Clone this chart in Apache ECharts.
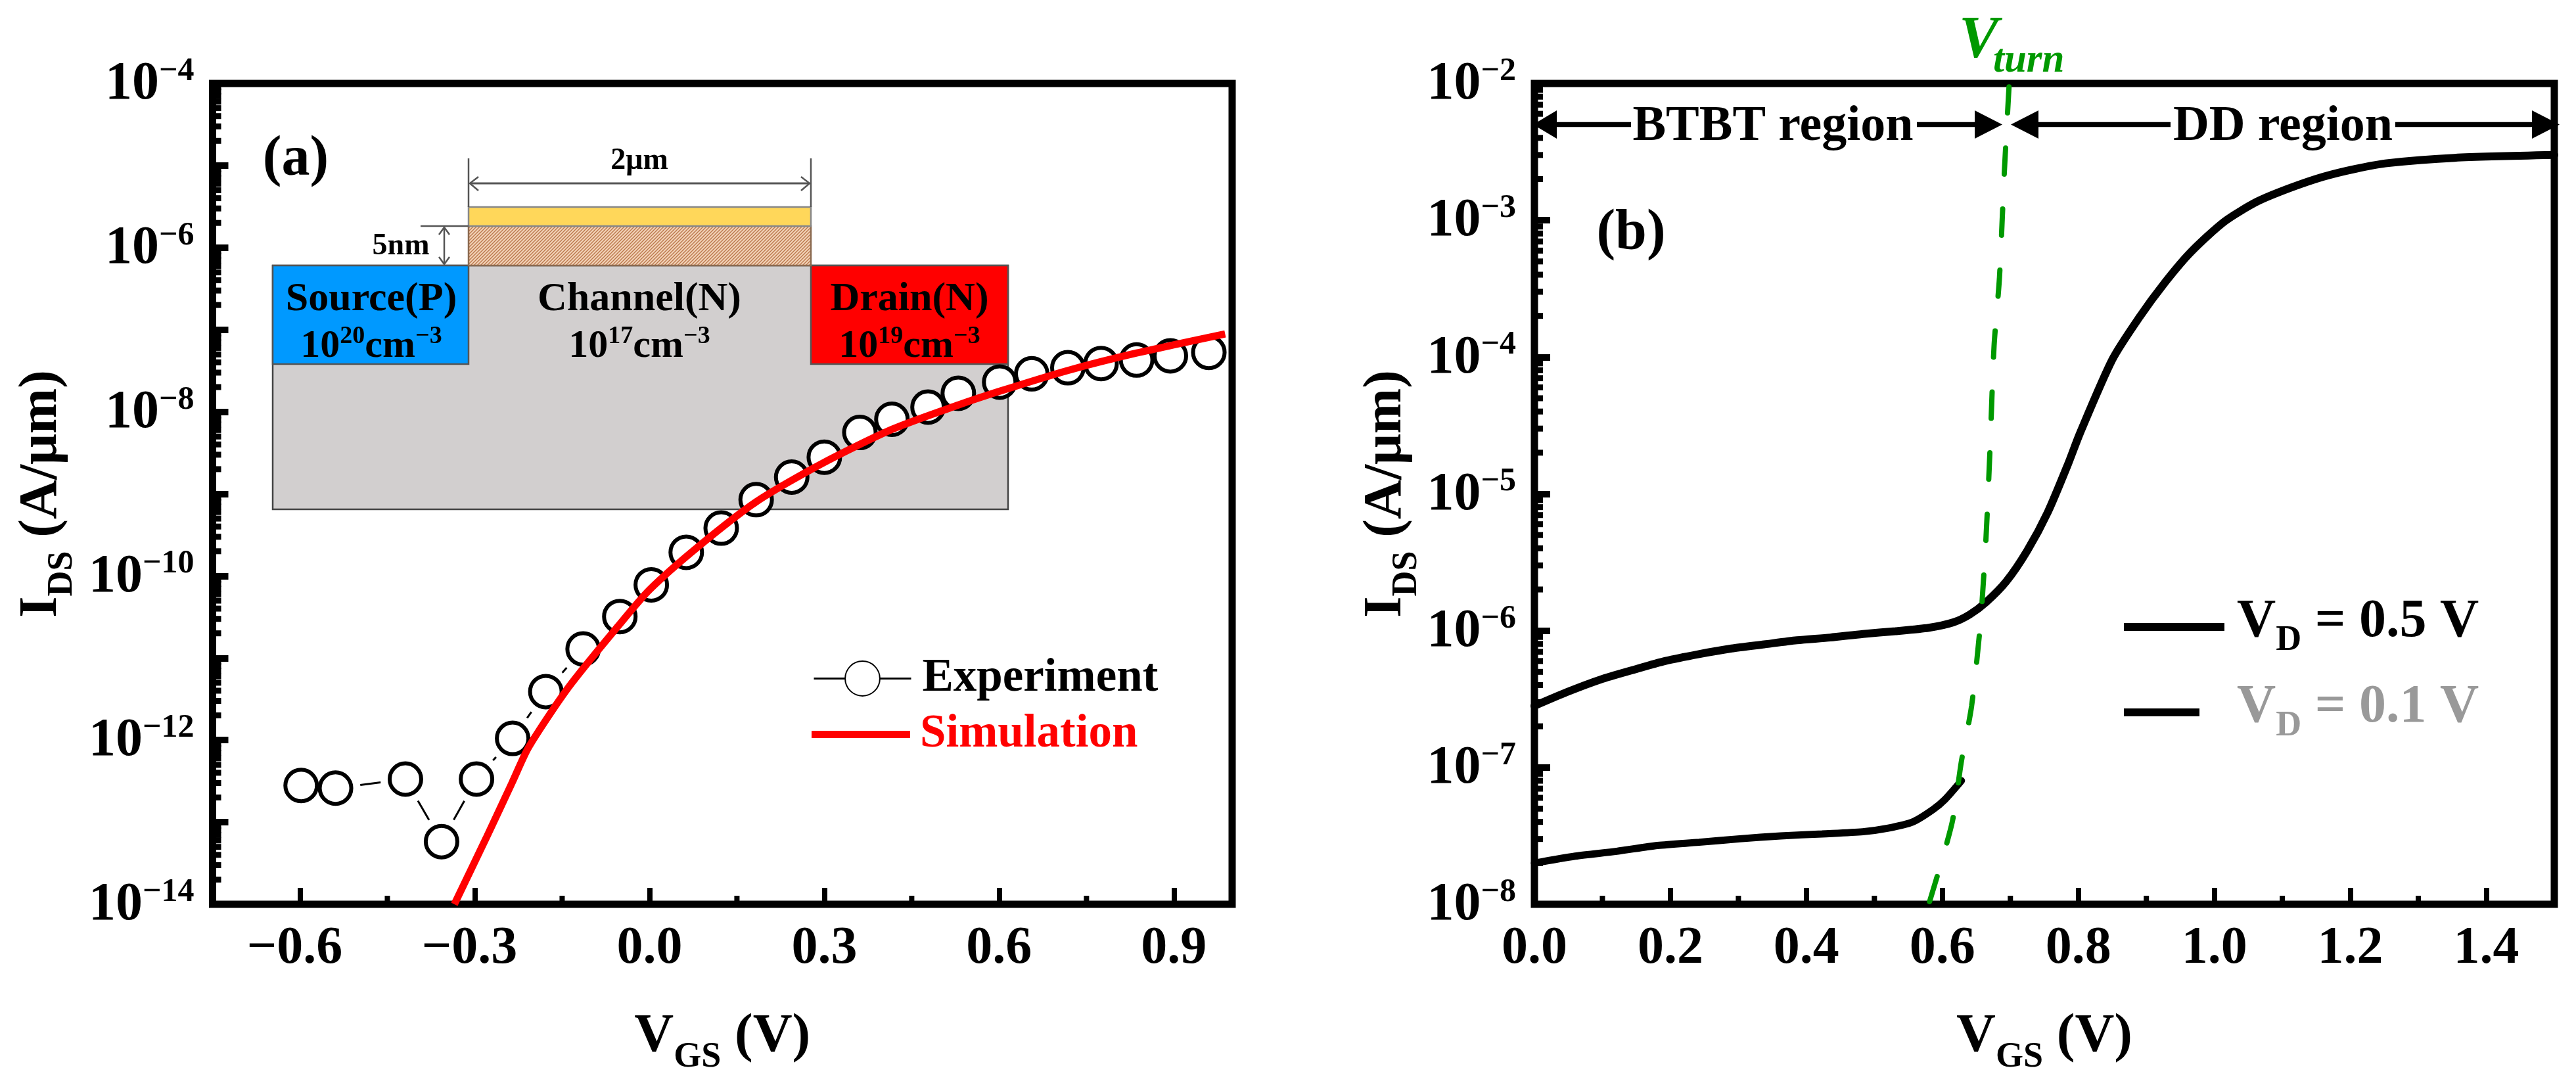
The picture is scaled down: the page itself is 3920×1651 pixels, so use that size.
<!DOCTYPE html>
<html><head><meta charset="utf-8">
<script src="https://cdn.jsdelivr.net/npm/echarts@6/dist/echarts.min.js"></script>
<style>html,body{margin:0;padding:0;background:#fff;overflow:hidden}#c{width:3920px;height:1651px}</style>
</head><body><div id="c"></div>
<script>
const expX = [-0.598,-0.539,-0.419,-0.357,-0.297,-0.235,-0.178,-0.114,-0.051,0.003,0.063,0.123,0.183,0.244,0.300,0.361,0.416,0.478,0.530,0.601,0.656,0.718,0.775,0.836,0.894,0.960];
const expY = [2.8e-13,2.6e-13,3.35e-13,5.8e-14,3.35e-13,1.05e-12,3.9e-12,1.29e-11,3.2e-11,7.8e-11,1.94e-10,3.83e-10,8.5e-10,1.6e-9,2.8e-9,5.6e-9,8.1e-9,1.14e-8,1.68e-8,2.3e-8,2.9e-8,3.44e-8,3.87e-8,4.27e-8,4.8e-8,5.3e-8];
const simX = [-0.335,-0.280,-0.235,-0.207,-0.139,-0.055,0,0.083,0.183,0.295,0.416,0.530,0.601,0.718,0.836,0.988];
const simY = [1e-14,6.5e-14,3.13e-13,8.3e-13,4.4e-12,2.4e-11,6.8e-11,2.26e-10,8.0e-10,2.32e-9,6.1e-9,1.21e-8,1.78e-8,3.19e-8,5.2e-8,8.9e-8];
const vd5X = [0,0.048,0.097,0.145,0.193,0.242,0.290,0.338,0.386,0.435,0.483,0.531,0.580,0.616,0.640,0.664,0.694,0.725,0.755,0.785,0.802,0.850,0.889,0.928,0.966,1.015,1.063,1.111,1.160,1.208,1.256,1.353,1.5];
const vd5Y = [2.82e-7,3.56e-7,4.39e-7,5.16e-7,6.01e-7,6.74e-7,7.41e-7,7.94e-7,8.51e-7,8.91e-7,9.46e-7,9.91e-7,1.05e-6,1.15e-6,1.31e-6,1.61e-6,2.29e-6,3.86e-6,7.34e-6,1.66e-5,2.75e-5,9.6e-5,1.93e-4,3.54e-4,5.89e-4,9.8e-4,1.37e-3,1.72e-3,2.08e-3,2.38e-3,2.62e-3,2.86e-3,3.0e-3];
const vd1X = [0,0.060,0.121,0.181,0.242,0.302,0.362,0.423,0.483,0.519,0.556,0.586,0.604,0.628];
const vd1Y = [2.0e-8,2.25e-8,2.44e-8,2.69e-8,2.84e-8,3.01e-8,3.16e-8,3.27e-8,3.39e-8,3.59e-8,3.99e-8,4.92e-8,5.85e-8,8.0e-8];
const turnX = [0.698,0.691,0.684,0.676,0.670,0.664,0.656,0.643,0.628,0.614,0.580];
const turnY = [9.44e-3,2.2e-3,3.84e-4,1.2e-4,2.09e-5,4.6e-6,1.14e-6,2.82e-7,1.11e-7,3.89e-8,1e-8];
const leftXTicks = [-0.6,-0.3,0,0.3,0.6,0.9];
const leftXMinor = [-0.45,-0.15,0.15,0.45,0.75];
const rightXTicks = [0,0.2,0.4,0.6,0.8,1.0,1.2,1.4];
const rightXMinor = [0.1,0.3,0.5,0.7,0.9,1.1,1.3];
const leftDecades = [-14,-13,-12,-11,-10,-9,-8,-7,-6,-5];
const rightDecades = [-8,-7,-6,-5,-4,-3];
const logMultipliers = [2,3,4,5,6,7,8,9];

const SERIF = '"Liberation Serif","Times New Roman",serif';
const zip = (a,b)=>a.map((v,i)=>[v,b[i]]);
const yMinor = d => d.flatMap(e=>logMultipliers.map(m=>m*Math.pow(10,e)));
const big = {fontFamily:SERIF,fontWeight:'bold',fontSize:82,color:'#000',verticalAlign:'bottom',lineHeight:86,padding:[0,0,0,0]};
const sup = {fontFamily:SERIF,fontWeight:'bold',fontSize:50,color:'#000',verticalAlign:'top',lineHeight:86,padding:[0,0,0,0]};
const axName = {m:{fontFamily:SERIF,fontWeight:'bold',fontSize:83,color:'#000',verticalAlign:'top',lineHeight:100},
                s:{fontFamily:SERIF,fontWeight:'bold',fontSize:54,color:'#000',verticalAlign:'bottom',lineHeight:100}};
const expFmt = (skipOdd)=>v=>{const e=Math.round(Math.log10(v)); if(skipOdd && (e%2)) return ''; return '{b|10}{s|'+String(e).replace('-','\u2212')+'}';};
const numFmt = v=>v<0?v.toFixed(1).replace('-','\u2212')+'\u2009':v.toFixed(1);

function yAxisCfg(gi,min,max,skipOdd,gap){return {gridIndex:gi,type:'log',logBase:10,min,max,interval:1,
  name:'{m|I}{s|DS}{m| (A/\u03bcm)}',nameLocation:'middle',nameRotate:90,nameGap:gap,nameTextStyle:{rich:axName},
  axisLine:{show:false,onZero:false},splitLine:{show:false},minorTick:{show:false},
  axisTick:{show:true,inside:true,length:24,lineStyle:{color:'#000',width:10}},
  axisLabel:{show:true,showMinLabel:true,showMaxLabel:true,hideOverlap:false,margin:28,formatter:expFmt(skipOdd),rich:{b:big,s:sup}}};}
function xAxisCfg(gi,min,max,ticks){return {gridIndex:gi,type:'value',min,max,
  name:'{m|V}{s|GS}{m| (V)}',nameLocation:'middle',nameGap:160,nameTextStyle:{rich:axName},
  axisLine:{show:false,onZero:false},splitLine:{show:false},
  axisTick:{show:true,inside:true,length:25,customValues:ticks,lineStyle:{color:'#000',width:8}},
  axisLabel:{show:true,margin:28,customValues:ticks,formatter:numFmt,fontFamily:SERIF,fontWeight:'bold',fontSize:80,color:'#000'}};}

function tickSeries(xi,yi,rows,dir,len,w){return {type:'custom',xAxisIndex:xi,yAxisIndex:yi,silent:true,z:3,clip:false,
  data:rows,tooltip:{show:false},
  renderItem:(p,api)=>{const c=api.coord([api.value(0),api.value(1)]);
    return {type:'line',shape:{x1:c[0],y1:c[1],x2:c[0]+(dir==='x'?len:0),y2:c[1]-(dir==='y'?len:0)},style:{stroke:'#000',lineWidth:w}};}};}

const linkRows = expX.slice(0,-1).map((x,i)=>[x,expY[i],expX[i+1],expY[i+1]]);
const hatch = (()=>{const c=document.createElement('canvas');c.width=c.height=5;const g=c.getContext('2d');
  g.fillStyle='#f3d3b8';g.fillRect(0,0,5,5);g.strokeStyle='#b9764a';g.lineWidth=1.3;
  g.beginPath();g.moveTo(-1,1);g.lineTo(1,-1);g.moveTo(0,5);g.lineTo(5,0);g.moveTo(4,6);g.lineTo(6,4);g.stroke();return c;})();

const rect=(x,y,w,h,fill,stroke)=>({type:'rect',shape:{x,y,width:w,height:h},style:{fill,stroke:stroke||null,lineWidth:stroke?2.5:0},silent:true});
const seg=(x1,y1,x2,y2,col,w)=>({type:'line',shape:{x1,y1,x2,y2},style:{stroke:col,lineWidth:w},silent:true});
const poly=(pts,fill)=>({type:'polygon',shape:{points:pts},style:{fill},silent:true});
const T=(x,y,text,size,opts)=>({type:'text',x,y,silent:true,style:Object.assign({text,fill:'#000',font:'bold '+size+'px '+SERIF,align:'center',verticalAlign:'middle'},opts||{})});
const richDoping=(x,y,a,b)=>T(x,y,'{m|10}{u|'+a+'}{m|cm}{u|'+b+'}',60,{rich:{
  m:{font:'bold 60px '+SERIF,fill:'#000',verticalAlign:'bottom',lineHeight:64},
  u:{font:'bold 38px '+SERIF,fill:'#000',verticalAlign:'top',lineHeight:64}}});
const open=(pts,col,w)=>({type:'polyline',shape:{points:pts},style:{stroke:col,lineWidth:w,fill:null},silent:true});

const graphics=[
  rect(415,404,1119,371,'#d2cfcf','#444'),
  rect(415,404,298,150,'#0099ff','#555'),
  rect(1234,404,300,150,'#ff0000','#555'),
  rect(713,344,521,60,{image:hatch,repeat:'repeat'},'#8a6a50'),
  rect(713,315,521,29,'#ffd75a','#888'),
  seg(713,241,713,315,'#555',2.5),seg(1234,241,1234,315,'#555',2.5),
  seg(715,279,1232,279,'#555',3),
  open([[728,269],[715,279],[728,290]],'#555',2.5),open([[1219,269],[1232,279],[1219,290]],'#555',2.5),
  seg(640,344,713,344,'#555',2.5),seg(676,346,676,402,'#555',2.5),
  open([[668,357],[676,346],[684,357]],'#555',2.5),open([[668,391],[676,402],[684,391]],'#555',2.5),
  T(973,245,'2\u03bcm',46),T(610,375,'5nm',46),
  T(565,456,'Source(P)',62),T(973,456,'Channel(N)',62),T(1384,456,'Drain(N)',62),
  richDoping(565,525,'20','\u22123'),richDoping(973,525,'17','\u22123'),richDoping(1384,525,'19','\u22123'),
  T(450,244,'(a)',86),T(2482,356,'(b)',86),
  seg(2365,189.5,2482,189.5,'#000',7.5),T(2698,193,'BTBT region',76),seg(2917,189.5,3010,189.5,'#000',7.5),
  poly([[2333,189.5],[2369,168],[2369,211]],'#000'),poly([[3047,189.5],[3005,168],[3005,211]],'#000'),
  seg(3098,189.5,3303,189.5,'#000',7.5),T(3474,193,'DD region',76),seg(3645,189.5,3858,189.5,'#000',7.5),
  poly([[3060,189.5],[3102,168],[3102,211]],'#000'),poly([[3895,189.5],[3853,168],[3853,211]],'#000'),
  {type:'text',x:2981,y:109,silent:true,style:{text:'V',fill:'#009900',font:'italic bold 90px '+SERIF,align:'left',verticalAlign:'bottom'}},
  {type:'text',x:3033,y:124,silent:true,style:{text:'turn',fill:'#009900',font:'italic bold 61px '+SERIF,align:'left',verticalAlign:'bottom'}}
];

const legText=(c,pad)=>({fontFamily:SERIF,fontWeight:'bold',fontSize:71,color:c,padding:pad});
const vdRich=(c)=>({v:{fontFamily:SERIF,fontWeight:'bold',fontSize:82,color:c,verticalAlign:'top',lineHeight:96},
                    d:{fontFamily:SERIF,fontWeight:'bold',fontSize:54,color:c,verticalAlign:'bottom',lineHeight:96}});
const vdFmt=n=>'{v|V}{d|D}{v|'+n.slice(2)+'}';

const option={animation:false,backgroundColor:'#fff',
  grid:[{left:323.5,top:127,width:1551.5,height:1249,show:true,borderColor:'#000',borderWidth:11,backgroundColor:'transparent'},
        {left:2335,top:127,width:1552,height:1249,show:true,borderColor:'#000',borderWidth:11,backgroundColor:'transparent'}],
  xAxis:[xAxisCfg(0,-0.75,1.0,leftXTicks),xAxisCfg(1,0,1.5,rightXTicks)],
  yAxis:[yAxisCfg(0,1e-14,1e-4,true,201),yAxisCfg(1,1e-8,1e-2,false,165)],
  legend:[
    {left:1237,top:997,orient:'vertical',itemWidth:148,itemHeight:66,padding:0,selectedMode:false,
      data:[{name:'Experiment',lineStyle:{color:'#000',width:3,opacity:1}}],textStyle:legText('#000',[0,0,0,12])},
    {left:1235,top:1082,orient:'vertical',itemWidth:150,itemHeight:11,padding:0,selectedMode:false,
      data:[{name:'Simulation',icon:'rect'}],textStyle:legText('#ff0000',[8,0,0,10])},
    {left:3232,top:906,orient:'vertical',itemWidth:153,itemHeight:12,padding:0,selectedMode:false,
      data:[{name:'VD = 0.5 V',icon:'rect'}],formatter:vdFmt,textStyle:{padding:[0,0,0,14],rich:vdRich('#000')}},
    {left:3232,top:1036,orient:'vertical',itemWidth:115,itemHeight:12,padding:0,selectedMode:false,
      data:[{name:'VD = 0.1 V',icon:'rect'}],formatter:vdFmt,textStyle:{padding:[0,0,0,52],rich:vdRich('#999')}}
  ],
  graphic:{elements:graphics},
  series:[
    tickSeries(0,0,yMinor(leftDecades).map(v=>[-0.75,v]),'x',13,9),
    tickSeries(1,1,yMinor(rightDecades).map(v=>[0,v]),'x',13,9),
    tickSeries(0,0,leftXMinor.map(v=>[v,1e-14]),'y',13,8),
    tickSeries(1,1,rightXMinor.map(v=>[v,1e-8]),'y',13,8),
    {type:'custom',xAxisIndex:0,yAxisIndex:0,silent:true,z:4,data:linkRows,
      renderItem:(p,api)=>{const a=api.coord([api.value(0),api.value(1)]),b=api.coord([api.value(2),api.value(3)]);
        const dx=b[0]-a[0],dy=b[1]-a[1],d=Math.hypot(dx,dy),r=38; if(d<=2*r) return null;
        return {type:'line',shape:{x1:a[0]+dx*r/d,y1:a[1]+dy*r/d,x2:b[0]-dx*r/d,y2:b[1]-dy*r/d},style:{stroke:'#000',lineWidth:3}};}},
    {name:'Experiment',type:'line',xAxisIndex:0,yAxisIndex:0,data:zip(expX,expY),z:5,symbol:'circle',symbolSize:48,showAllSymbol:true,
      lineStyle:{opacity:0,width:3,color:'#000'},itemStyle:{color:'#fff',borderColor:'#000',borderWidth:6}},
    {name:'Simulation',type:'line',xAxisIndex:0,yAxisIndex:0,data:zip(simX,simY),z:6,symbol:'none',smooth:0.25,
      lineStyle:{color:'#ff0000',width:11},itemStyle:{color:'#ff0000'}},
    {name:'VD = 0.5 V',type:'line',xAxisIndex:1,yAxisIndex:1,data:zip(vd5X,vd5Y),z:5,symbol:'none',smooth:0.25,
      lineStyle:{color:'#000',width:12,cap:'round'},itemStyle:{color:'#000'}},
    {name:'VD = 0.1 V',type:'line',xAxisIndex:1,yAxisIndex:1,data:zip(vd1X,vd1Y),z:5,symbol:'none',smooth:0.25,
      lineStyle:{color:'#000',width:11,cap:'round'},itemStyle:{color:'#000'}},
    {name:'Vturn',type:'line',xAxisIndex:1,yAxisIndex:1,data:zip(turnX,turnY),z:6,symbol:'none',smooth:0.25,
      lineStyle:{color:'#009900',width:8,type:[40,53],cap:'round'},itemStyle:{color:'#009900'}}
  ]};
const chart=echarts.init(document.getElementById('c'),null,{renderer:'canvas',width:3920,height:1651});
chart.setOption(option);
</script></body></html>
